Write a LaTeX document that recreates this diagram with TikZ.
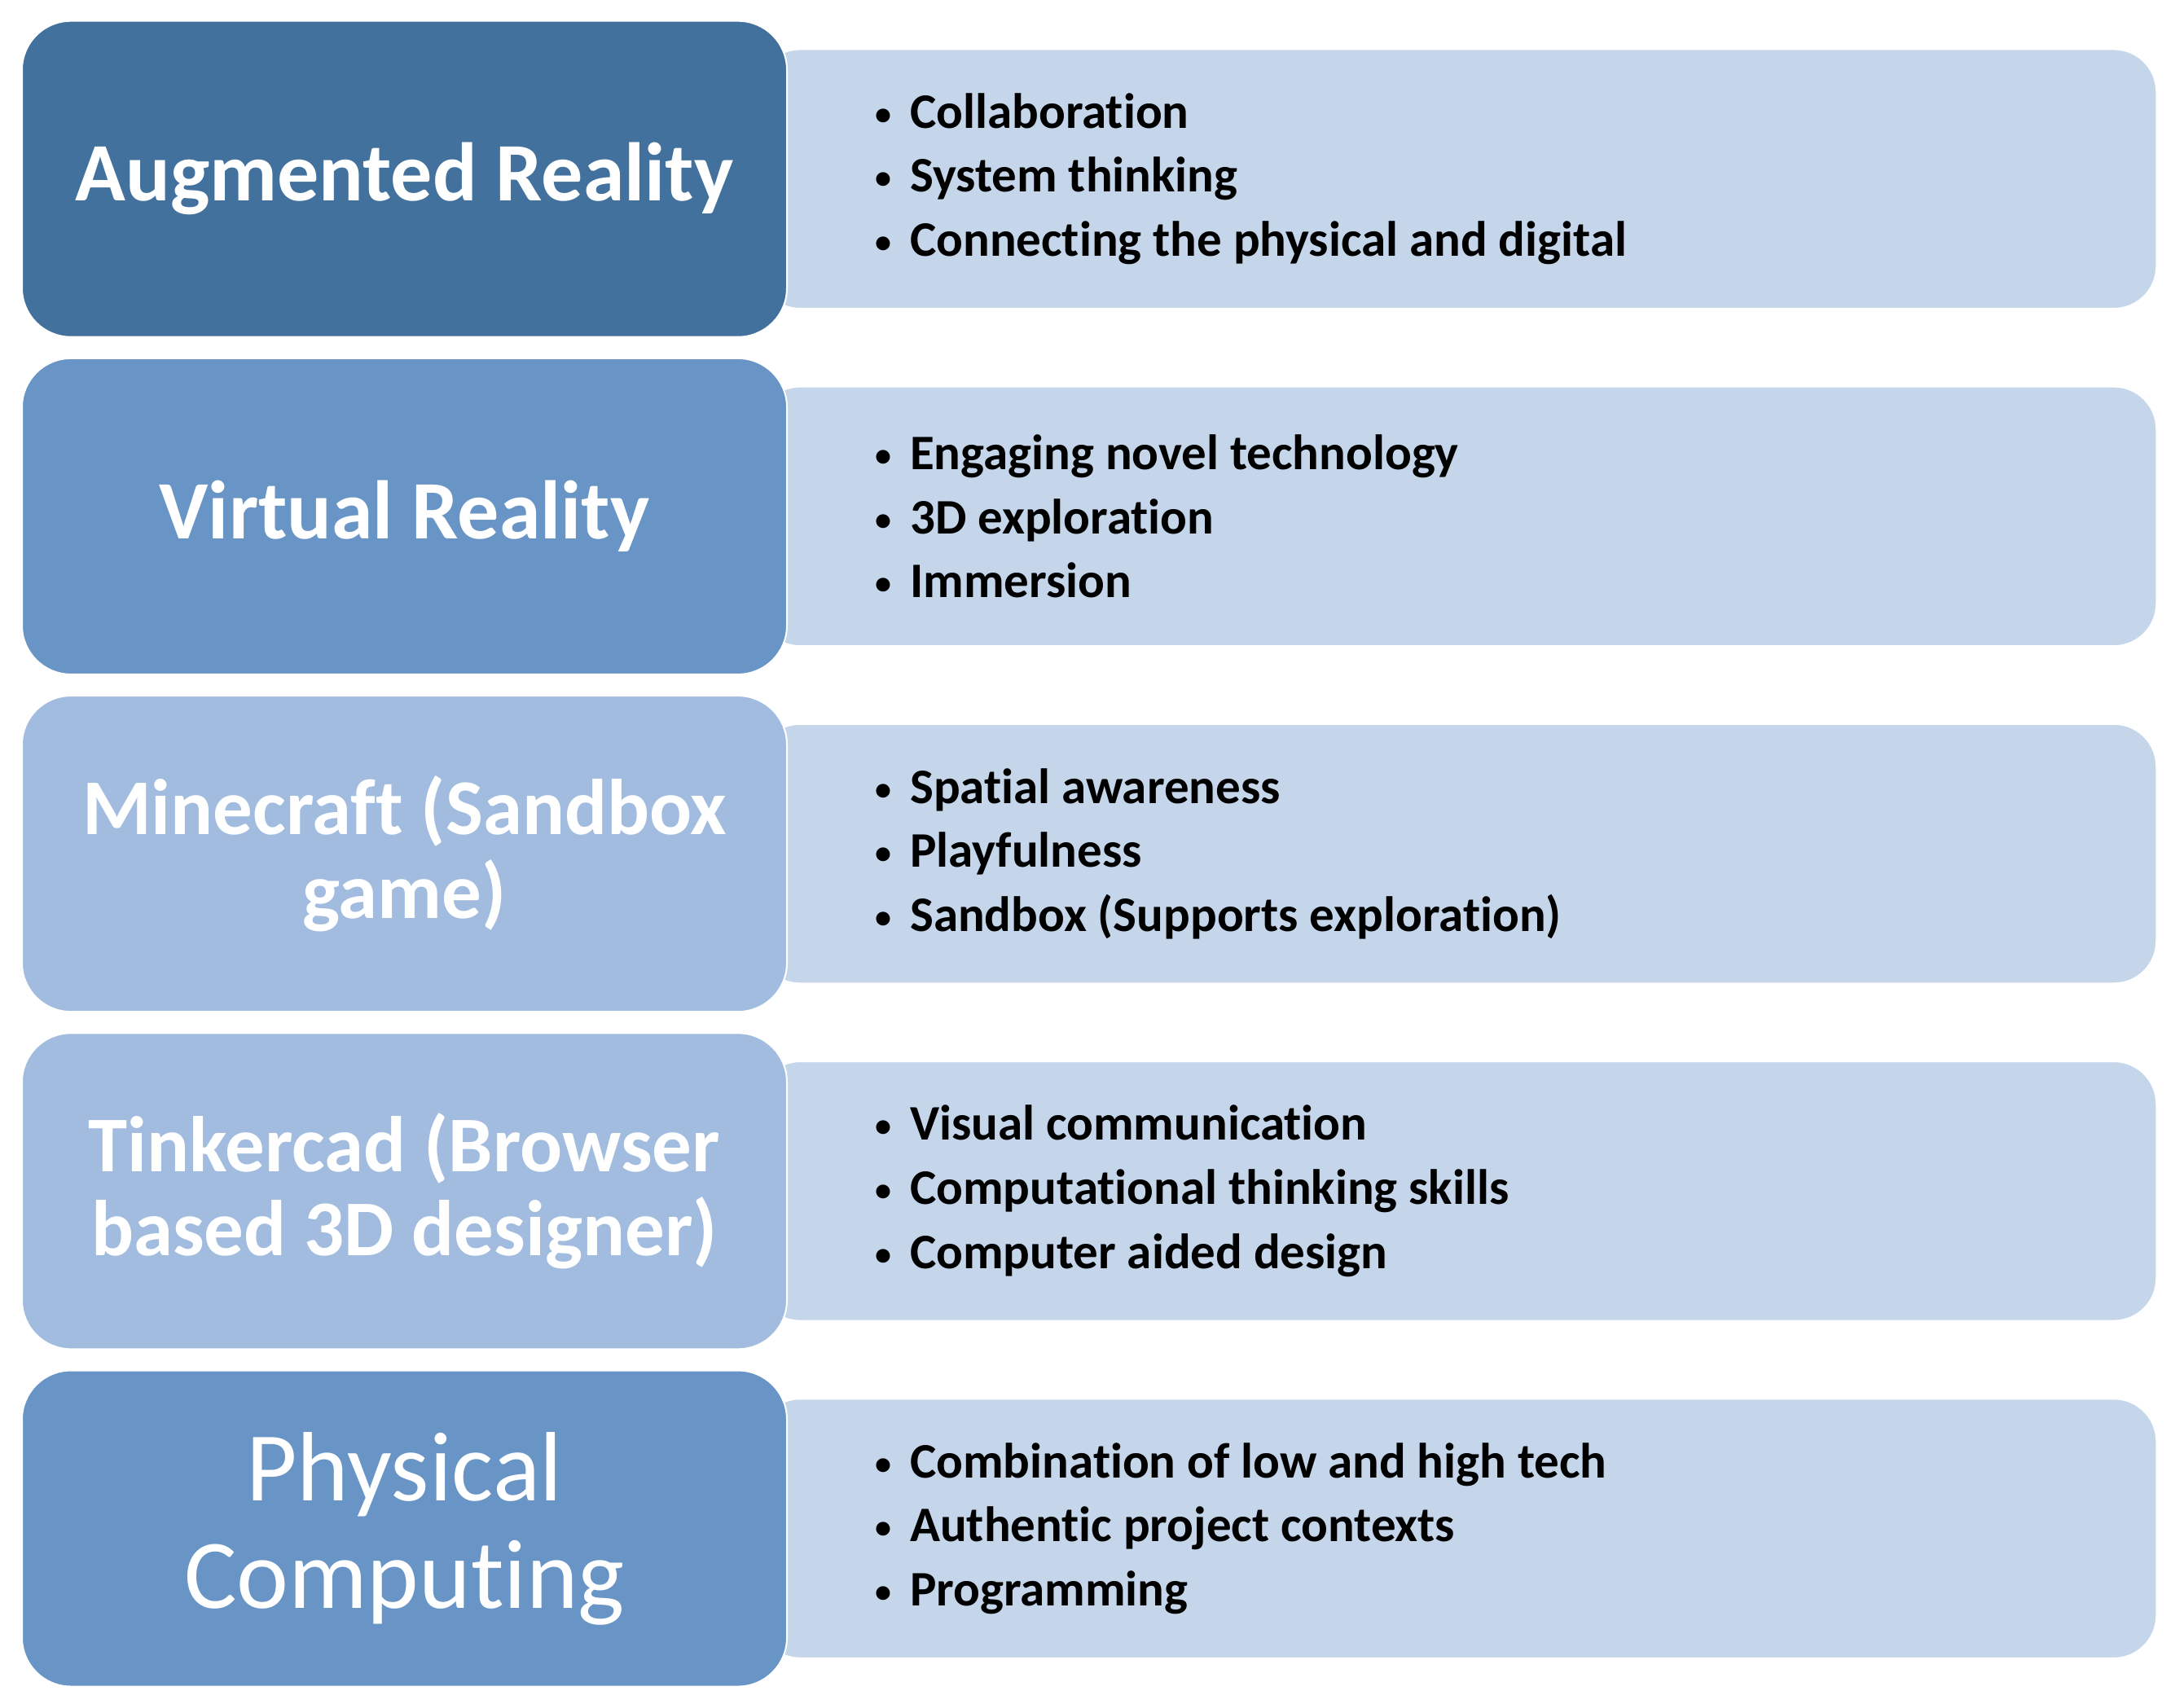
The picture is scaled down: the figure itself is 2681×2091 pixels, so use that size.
\documentclass[tikz,border=0pt]{standalone}
\usepackage{fontspec}
\setmainfont{Carlito}[Ligatures={NoCommon,NoRare,NoContextual}]
\definecolor{cdark}{RGB}{65,113,156}
\definecolor{cmid}{RGB}{104,149,198}
\definecolor{clight}{RGB}{162,188,224}
\definecolor{cpale}{RGB}{197,214,235}
\tikzset{
  leftbox/.style={draw=white, line width=2pt, rounded corners=60pt, minimum width=939pt, minimum height=388pt, inner sep=0pt, text=white, align=center},
  rightbox/.style={draw=white, line width=1.5pt, fill=cpale, rounded corners=52pt, minimum width=1717pt, minimum height=318pt, inner sep=0pt},
  items/.style={anchor=west, align=left, inner sep=0pt, font=\fontsize{61}{78.7}\selectfont\bfseries},
  bigbold/.style={font=\fontsize{102}{103}\selectfont\bfseries},
  twobold/.style={font=\fontsize{97}{103}\selectfont\bfseries},
}
\newcommand{\itm}[1]{\makebox[43pt][l]{\raisebox{4pt}{\fontsize{40}{40}\selectfont •}}#1}
\begin{document}
\begin{tikzpicture}[x=1pt,y=-1pt]
\useasboundingbox[fill=white] (0,0) rectangle (2681,2091);
% row centres: 219.7 + 414.2*(i-1)
\node[rightbox] (r1) at (1788.5,219.7) {};
\node[rightbox] (r2) at (1788.5,633.9) {};
\node[rightbox] (r3) at (1788.5,1048.1) {};
\node[rightbox] (r4) at (1788.5,1462.3) {};
\node[rightbox] (r5) at (1788.5,1876.5) {};
\node[leftbox, fill=cdark, bigbold] (l1) at (496.5,219.7) {Augmented Reality};
\node[leftbox, fill=cmid, bigbold] (l2) at (496.5,633.9) {Virtual Reality};
\node[leftbox, fill=clight, twobold] (l3) at (496.5,1048.1) {Minecraft (Sandbox\\game)};
\node[leftbox, fill=clight, twobold] (l4) at (496.5,1462.3) {Tinkercad (Browser\\based 3D designer)};
\node[leftbox, fill=cmid, font=\fontsize{121}{132}\selectfont] (l5) at (496.5,1876.5) {Physical\\Computing};
\node[items] (t1) at (1074,219.7) {\itm{Collaboration}\\\itm{System thinking}\\\itm{Connecting the physical and digital}};
\node[items] (t2) at (1074,633.9) {\itm{Engaging novel technology}\\\itm{3D exploration}\\\itm{Immersion}};
\node[items] (t3) at (1074,1048.1) {\itm{Spatial awareness}\\\itm{Playfulness}\\\itm{Sandbox (Supports exploration)}};
\node[items] (t4) at (1074,1462.3) {\itm{Visual communication}\\\itm{Computational thinking skills}\\\itm{Computer aided design}};
\node[items] (t5) at (1074,1876.5) {\itm{Combination of low and high tech}\\\itm{Authentic project contexts}\\\itm{Programming}};
\end{tikzpicture}
\end{document}
